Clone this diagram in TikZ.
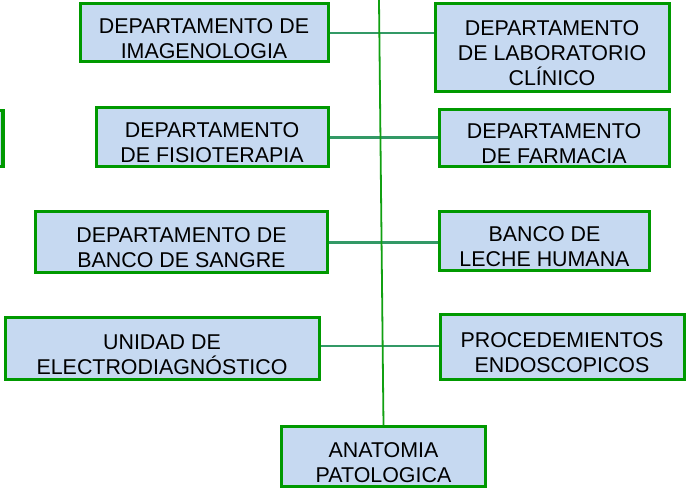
\documentclass[tikz,border=0pt]{standalone}
\usepackage{fontspec}
\setmainfont{Liberation Sans}
\usepackage{tikz}
\definecolor{boxfill}{HTML}{C6D9F1}
\definecolor{boxline}{HTML}{009900}
\definecolor{linkline}{HTML}{339966}
\definecolor{axisline}{HTML}{11A011}
\newcommand{\topgap}{\rule{0pt}{13pt}}

\begin{document}
\begin{tikzpicture}[x=0.5pt, y=-0.5pt]
\tikzstyle{dept} = [rectangle, draw=boxline, fill=boxfill, line width=1.5pt, align=center, inner sep=0pt, font=\fontsize{10.7}{12.5}\selectfont]
\tikzstyle{link} = [draw=linkline, line width=1.3pt]
\tikzstyle{axis} = [draw=axisline, line width=0.9pt]

\useasboundingbox (0,0) rectangle (687,491);
\clip (0,0) rectangle (687,491);

% Left column
\node [dept, minimum width=124pt, minimum height=29pt] (imagen) at (204,33) {\topgap DEPARTAMENTO DE\\IMAGENOLOGIA};
\node [dept, minimum width=116pt, minimum height=29.5pt] (fisio) at (212,137.5) {\topgap DEPARTAMENTO\\DE FISIOTERAPIA};
\node [dept, minimum width=146pt, minimum height=30.5pt] (sangre) at (181.5,242.5) {\topgap DEPARTAMENTO DE\\BANCO DE SANGRE};
\node [dept, minimum width=157pt, minimum height=31pt] (electro) at (162,349) {\topgap UNIDAD DE\\ELECTRODIAGNÓSTICO};

% Box cut by the left margin
\node [dept, minimum width=53pt, minimum height=28pt] (partial) at (-50,139) {};

% Right column
\node [dept, minimum width=117pt, minimum height=44pt] (lab) at (552,48) {\topgap DEPARTAMENTO\\DE LABORATORIO\\CLÍNICO};
\node [dept, minimum width=115pt, minimum height=28.5pt] (farmacia) at (554,138.5) {\topgap DEPARTAMENTO\\DE FARMACIA};
\node [dept, minimum width=105pt, minimum height=29.5pt] (leche) at (544.5,241.5) {\topgap BANCO DE\\LECHE HUMANA};
\node [dept, minimum width=122pt, minimum height=32.5pt] (endo) at (562,347.5) {\topgap PROCEDEMIENTOS\\ENDOSCOPICOS};

% Bottom box
\node [dept, minimum width=102pt, minimum height=30pt] (anatomia) at (383.5,457) {\topgap ANATOMIA\\PATOLOGICA};

% Links between the columns
\draw [link] (imagen.east) -- (imagen.east -| lab.west);
\draw [link] (fisio.east) -- (fisio.east -| farmacia.west);
\draw [link] (sangre.east) -- (sangre.east -| leche.west);
\draw [link] ([yshift=1.5pt]electro.east) -- ([yshift=1.5pt]electro.east -| endo.west);

% Main vertical line
\coordinate (top) at (379,0);
\draw [axis] (top) -- (anatomia.north);

\end{tikzpicture}
\end{document}
